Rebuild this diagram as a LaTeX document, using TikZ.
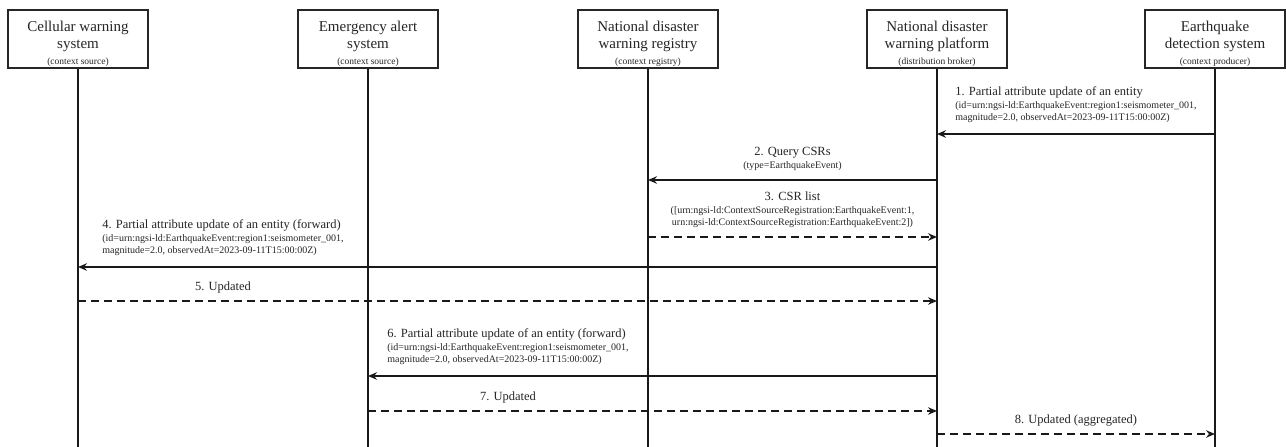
\documentclass[tikz,border=0pt]{standalone}
\usepackage{fontspec}
\setmainfont{Liberation Serif}
\usetikzlibrary{arrows.meta,calc}

% font helpers for the participant boxes and the message labels
\newcommand\rolefont{\fontsize{9.5}{11}\selectfont}
\newcommand\msgtitle{\fontsize{12.5}{14}\selectfont}
% taller first line, so the box text sits a little low
\newcommand\toppad{\rule{0pt}{20.5pt}}

\begin{document}
\begin{tikzpicture}[x=1pt,y=-1pt,
  actor/.style={draw=black!85, line width=1.3pt, minimum width=140pt,
    minimum height=58pt, inner sep=0pt, align=center, text=black!85,
    font=\fontsize{15}{17.5}\selectfont},
  lifeline/.style={line width=2pt, black!90},
  call/.style={line width=1.8pt, black!90,
    -{Stealth[length=9pt,width=7.5pt,inset=3pt]}},
  reply/.style={call, dash pattern=on 8pt off 5pt},
  msgl/.style={inner sep=0pt, align=left, anchor=south, text=black!85,
    font=\fontsize{10}{12}\selectfont},
  msgc/.style={msgl, align=center}
]
\useasboundingbox (0,0) rectangle (1286,447);
\fill[white] (0,0) rectangle (1286,447);

% participants
\node[actor] (cell)  at (78,39)   {\toppad Cellular warning\\system\\[-1.5pt]{\rolefont (context source)}};
\node[actor] (alert) at (368,39)  {\toppad Emergency alert\\system\\[-1.5pt]{\rolefont (context source)}};
\node[actor] (reg)   at (648,39)  {\toppad National disaster\\warning registry\\[-1.5pt]{\rolefont (context registry)}};
\node[actor] (plat)  at (937,39)  {\toppad National disaster\\warning platform\\[-1.5pt]{\rolefont (distribution broker)}};
\node[actor] (prod)  at (1215,39) {\toppad Earthquake\\detection system\\[-1.5pt]{\rolefont (context producer)}};

% lifelines
\foreach \p in {cell,alert,reg,plat,prod}{
  \coordinate (\p-end) at (\p.south |- 0,447);
  \draw[lifeline] (\p.south) -- (\p-end);
}

% label columns between neighbouring lifelines
\coordinate (g12) at ($(cell)!0.5!(alert)$);
\coordinate (g23) at ($(alert)!0.5!(reg)$);
\coordinate (g34) at ($(reg)!0.5!(plat)$);
\coordinate (g45) at ($(plat)!0.5!(prod)$);

% 1. producer -> platform
\draw[call] (prod |- 0,134) -- (plat |- 0,134);
\node[msgl] (m1) at (g45 |- 0,123) {{\msgtitle 1. Partial attribute update of an entity}\\[1pt]
  (id=urn:ngsi-ld:EarthquakeEvent:region1:seismometer\_001,\\
  magnitude=2.0, observedAt=2023-09-11T15:00:00Z)};

% 2. platform -> registry
\draw[call] (plat |- 0,180) -- (reg |- 0,180);
\node[msgc] (m2) at (g34 |- 0,171) {{\msgtitle 2. Query CSRs}\\[1pt] (type=EarthquakeEvent)};

% 3. registry -> platform
\draw[reply] (reg |- 0,237) -- (plat |- 0,237);
\node[msgc] (m3) at (g34 |- 0,228) {{\msgtitle 3. CSR list}\\[1pt]
  ([urn:ngsi-ld:ContextSourceRegistration:EarthquakeEvent:1,\\
  urn:ngsi-ld:ContextSourceRegistration:EarthquakeEvent:2])};

% 4. platform -> cellular warning system
\draw[call] (plat |- 0,267) -- (cell |- 0,267);
\node[msgl] (m4) at (g12 |- 0,256) {{\msgtitle 4. Partial attribute update of an entity (forward)}\\[1pt]
  (id=urn:ngsi-ld:EarthquakeEvent:region1:seismometer\_001,\\
  magnitude=2.0, observedAt=2023-09-11T15:00:00Z)};

% 5. cellular warning system -> platform
\draw[reply] (cell |- 0,301) -- (plat |- 0,301);
\node[msgc] (m5) at (g12 |- 0,293) {\msgtitle 5. Updated};

% 6. platform -> emergency alert system
\draw[call] (plat |- 0,376) -- (alert |- 0,376);
\node[msgl] (m6) at (g23 |- 0,365) {{\msgtitle 6. Partial attribute update of an entity (forward)}\\[1pt]
  (id=urn:ngsi-ld:EarthquakeEvent:region1:seismometer\_001,\\
  magnitude=2.0, observedAt=2023-09-11T15:00:00Z)};

% 7. emergency alert system -> platform
\draw[reply] (alert |- 0,411) -- (plat |- 0,411);
\node[msgc] (m7) at (g23 |- 0,403) {\msgtitle 7. Updated};

% 8. platform -> producer
\draw[reply] (plat |- 0,434) -- (prod |- 0,434);
\node[msgc] (m8) at (g45 |- 0,426) {\msgtitle 8. Updated (aggregated)};
\end{tikzpicture}
\end{document}
